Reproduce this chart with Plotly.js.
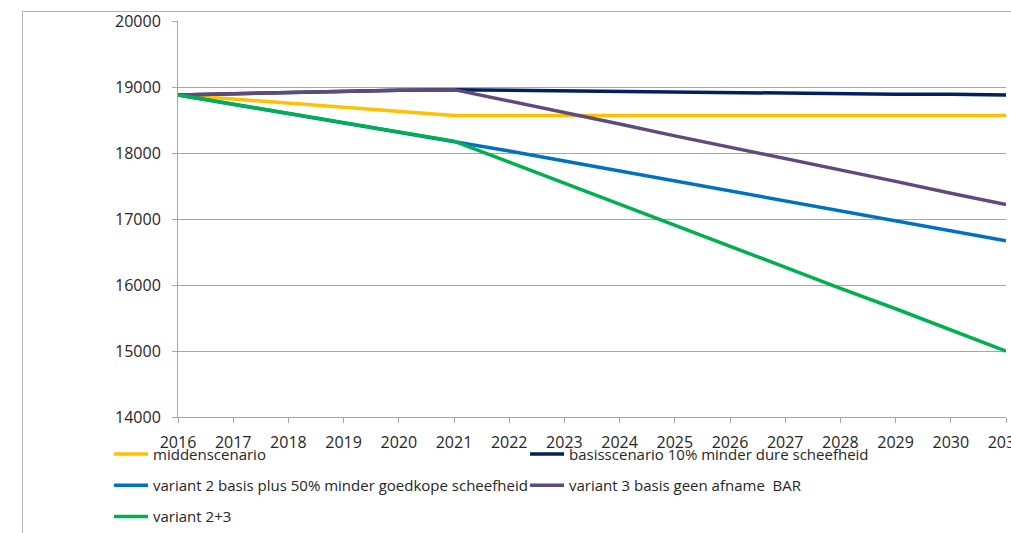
<!DOCTYPE html>
<html>
<head>
<meta charset="utf-8">
<script src="https://cdn.plot.ly/plotly-3.0.1.min.js"></script>
<style>
  html, body { margin: 0; padding: 0; background: #ffffff; }
  #wrap { position: relative; width: 1011px; height: 533px; overflow: hidden; }
  #frame { position: absolute; left: 22px; top: 11px; width: 1000px; height: 540px;
           border-left: 1px solid #b4b4b4; border-top: 1px solid #b4b4b4; }
  #chart { position: absolute; left: 0; top: 0; width: 1011px; height: 533px; }
</style>
</head>
<body>
<div id="wrap">
  <div id="frame"></div>
  <div id="chart"></div>
</div>
<script>
// Years on the horizontal axis
const years = [2016, 2017, 2018, 2019, 2020, 2021, 2022, 2023, 2024, 2025, 2026, 2027, 2028, 2029, 2030, 2031];

// Scenario series
const middenscenario = [18880, 18820, 18760, 18700, 18640, 18570, 18570, 18570, 18570, 18570, 18570, 18570, 18570, 18570, 18570, 18570];
const basisscenario  = [18880, 18900, 18910, 18930, 18950, 18960, 18950, 18940, 18930, 18930, 18920, 18910, 18900, 18890, 18890, 18880];
const variant2       = [18880, 18740, 18600, 18460, 18320, 18180, 18030, 17880, 17730, 17580, 17420, 17270, 17120, 16970, 16820, 16670];
const variant3       = [18880, 18900, 18910, 18930, 18950, 18960, 18790, 18610, 18440, 18260, 18090, 17920, 17740, 17570, 17390, 17220];
const variant23      = [18880, 18740, 18600, 18460, 18320, 18180, 17860, 17540, 17230, 16910, 16590, 16270, 15950, 15640, 15320, 15000];

const seriesNames = [
  'middenscenario',
  'basisscenario 10% minder dure scheefheid',
  'variant 2 basis plus 50% minder goedkope scheefheid',
  'variant 3 basis geen afname  BAR',
  'variant 2+3'
];
const yTicks = [14000, 15000, 16000, 17000, 18000, 19000, 20000];

const series = [middenscenario, basisscenario, variant2, variant3, variant23];
const colors = ['#FFC000', '#002060', '#0070C0', '#604A7B', '#00B050'];
const legendOf = ['legend', 'legend', 'legend2', 'legend2', 'legend3'];

const traces = series.map((vals, i) => ({
  type: 'scatter',
  mode: 'lines',
  x: years,
  y: vals,
  name: seriesNames[i],
  legend: legendOf[i],
  line: { color: colors[i], width: 3.5 },
  hoverinfo: 'x+y+name'
}));

const textColor = '#262626';
const gridColor = '#a6a6a6';

const legendBase = {
  orientation: 'h',
  xanchor: 'left',
  yanchor: 'middle',
  x: -0.0833,
  entrywidth: 367,
  entrywidthmode: 'pixels',
  itemwidth: 34,
  bgcolor: 'rgba(0,0,0,0)',
  font: { family: 'Open Sans, sans-serif', size: 15, color: textColor },
  traceorder: 'normal'
};

const layout = {
  width: 1011,
  height: 533,
  margin: { l: 178, r: 5, t: 21, b: 116, autoexpand: false },
  paper_bgcolor: 'rgba(0,0,0,0)',
  plot_bgcolor: 'rgba(0,0,0,0)',
  font: { family: 'Open Sans, sans-serif', size: 16, color: textColor },
  xaxis: {
    type: 'linear',
    range: [2016, 2031],
    tickmode: 'array',
    tickvals: years,
    ticktext: years.map(String),
    showgrid: false,
    showline: true,
    linecolor: gridColor,
    linewidth: 1,
    ticks: 'outside',
    ticklen: 5,
    tickcolor: gridColor,
    ticklabelstandoff: 6,
    ticklabeloverflow: 'allow',
    automargin: false,
    zeroline: false,
    tickfont: { size: 16, color: textColor }
  },
  yaxis: {
    range: [14000, 20000],
    tickmode: 'array',
    tickvals: yTicks,
    ticktext: yTicks.map(String),
    showgrid: true,
    gridcolor: gridColor,
    gridwidth: 1,
    showline: true,
    linecolor: gridColor,
    linewidth: 1,
    ticks: 'outside',
    ticklen: 5,
    tickcolor: gridColor,
    ticklabelstandoff: 8,
    automargin: false,
    zeroline: false,
    tickfont: { size: 16, color: textColor }
  },
  showlegend: true,
  legend:  Object.assign({}, legendBase, { y: -0.094 }),
  legend2: Object.assign({}, legendBase, { y: -0.173 }),
  legend3: Object.assign({}, legendBase, { y: -0.252 })
};

Plotly.newPlot('chart', traces, layout, { displayModeBar: false, staticPlot: true });
</script>
</body>
</html>
